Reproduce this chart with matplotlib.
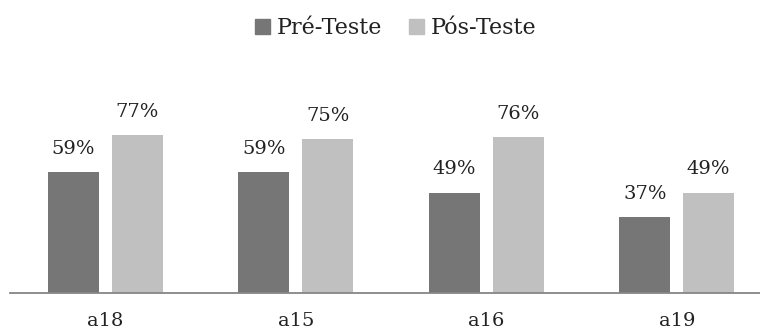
import numpy as np
import matplotlib
matplotlib.use("Agg")
import matplotlib.pyplot as plt
from matplotlib.patches import Patch

# ===== data =====
categories = ["a18", "a15", "a16", "a19"]
pre_teste = [59, 59, 49, 37]
pos_teste = [77, 75, 76, 49]
series_names = ["Pré-Teste", "Pós-Teste"]
dark = "#767676"
light = "#c0c0c0"

plt.rcParams['font.family'] = ['DejaVu Serif']

fig = plt.figure(figsize=(7.6, 3.34), dpi=100)
# axes placed in pixels: left 10, bottom at y=293 (from top), 100% = 205 px
ax = fig.add_axes([10 / 760, (334 - 293) / 334, 750 / 760, 205 / 334])

x = np.arange(len(categories))
w = 0.268
off = 0.167
b1 = ax.bar(x - off, pre_teste, w, color=dark)
b2 = ax.bar(x + off, pos_teste, w, color=light)

for bars, vals in [(b1, pre_teste), (b2, pos_teste)]:
    for r, v in zip(bars, vals):
        ax.annotate("%d%%" % v, (r.get_x() + r.get_width() / 2, v),
                    xytext=(0, 13), textcoords="offset points",
                    ha="center", va="baseline", fontsize=14, color="#222222")

ax.set_xlim(-0.5, 3.437)
ax.set_ylim(0, 100)
ax.set_xticks(x)
ax.set_xticklabels(categories, fontsize=14, color="#222222")
ax.tick_params(axis="x", length=0, pad=14)
ax.set_yticks([])
for s in ["top", "right", "left"]:
    ax.spines[s].set_visible(False)
ax.spines["bottom"].set_color("#868686")
ax.spines["bottom"].set_linewidth(1.3)

handles = [Patch(color=dark), Patch(color=light)]
fig.legend(handles, series_names, loc="center", bbox_to_anchor=(395.5 / 760, 1 - 28 / 334),
           ncol=2, frameon=False, fontsize=16, handlelength=0.68, handleheight=0.68,
           handletextpad=0.3, columnspacing=1.2, labelcolor="#222222")

fig.savefig("out.png", dpi=100)
